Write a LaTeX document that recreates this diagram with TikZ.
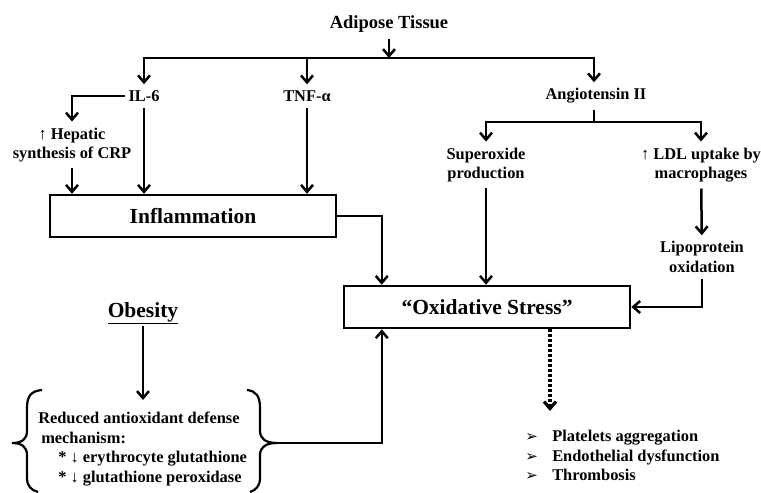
\documentclass[tikz,border=0pt]{standalone}
\usepackage{fontspec}
\setmainfont{Liberation Serif}
\newfontfamily\dejavu{DejaVu Sans}
\usetikzlibrary{arrows.meta}

\begin{document}
\begin{tikzpicture}[
    % pixel grid of the page
    x=1pt, y=-1pt,
    % type of arrow head
    >={Straight Barb[length=7pt,width=12pt]},
    % line thickness
    line width=2.5pt,
    txt/.style = {font=\fontsize{16.4}{19.5}\selectfont\bfseries, align=center, inner xsep=2pt, inner ysep=5pt},
    bigtxt/.style = {font=\fontsize{21.5}{24}\selectfont\bfseries, align=center},
    box/.style = {draw=black, line width=2.5pt, minimum width=286pt, minimum height=42pt, bigtxt},
    line/.style = {->, draw=black, line width=2.5pt},
    dots/.style = {->, draw=black, line width=3.2pt, dash pattern=on 3pt off 2pt}
    ]

    \useasboundingbox (0,0) rectangle (761,493);

    \coordinate (tmid) at (389,58);
    \coordinate (split) at (594,122);
    \coordinate (lbrace) at (12,443);
    \coordinate (rbrace) at (277,443);
    \coordinate (effin) at (550,411);

    % nodes
    \node (adipose) [txt, font=\fontsize{18.5}{20}\selectfont\bfseries] at (389,24) {Adipose Tissue};
    \node (il6)   [txt] at (144,96) {IL-6};
    \node (tnf)   [txt] at (307,96) {TNF-α};
    \node (angio) [txt] at (596,96) {Angiotensin II};
    \node (crp)   [txt] at (72,145) {↑ Hepatic\\synthesis of CRP};
    \node (super) [txt] at (486,165) {Superoxide\\production};
    \node (ldl)   [txt] at (701,165) {↑ LDL uptake by\\macrophages};
    \node (lipo)  [txt] at (702,257) {Lipoprotein\\oxidation};

    \node (infl) [box] at (193,216) {Inflammation};
    \node (oxi)  [box] at (487,307) {“Oxidative Stress”};

    \node (obesity) [bigtxt, inner sep=1pt] at (143,313) {\underline{Obesity}};
    \node (reduced) [txt, align=left, anchor=north west] at (35,406)
        {Reduced antioxidant defense\\
         \hspace*{3pt}mechanism:\\
         \hspace*{20pt}* ↓ erythrocyte glutathione\\
         \hspace*{20pt}* ↓ glutathione peroxidase};
    \node (effects) [txt, align=left, anchor=north west] at (522,424)
        {\makebox[27pt][l]{\dejavu\fontsize{15}{15}\selectfont ➢}Platelets aggregation\\
         \makebox[27pt][l]{\dejavu\fontsize{15}{15}\selectfont ➢}Endothelial dysfunction\\
         \makebox[27pt][l]{\dejavu\fontsize{15}{15}\selectfont ➢}Thrombosis};

    % braces
    \draw[line width=2.2pt] (42,390) .. controls (31,391) and (27,396) .. (27,408)
        -- (27,431) .. controls (27,439) and (22,443) .. (lbrace)
        .. controls (22,443) and (27,447) .. (27,455)
        -- (27,478) .. controls (27,486) and (31,490) .. (38,492);
    \draw[line width=2.2pt] (247,390) .. controls (256,391) and (260,396) .. (260,408)
        -- (260,431) .. controls (260,439) and (266,443) .. (rbrace)
        .. controls (266,443) and (260,447) .. (260,455)
        -- (260,478) .. controls (260,486) and (256,490) .. (250,492);

    % edges
    \path[line] (adipose) -- (tmid);
    \path[line] (tmid) -| (il6);
    \path[line] (tmid) -| (angio.north -| split);
    \path[line] (tnf |- tmid) -- (tnf);

    \path[line] (il6.west) -| (crp);
    \path[line] (crp.south) -- (crp.south |- infl.north);
    \path[line] (il6) -- (il6 |- infl.north);
    \path[line] (tnf) -- (tnf |- infl.north);

    \draw (angio.south -| split) -- (split);
    \path[line] (split) -| (super);
    \path[line] (split) -| (ldl);
    \path[line] (ldl) -- (lipo);

    \path[line] (infl.east) -| ([xshift=39pt]oxi.north west);
    \path[line] (super) -- (super |- oxi.north);
    \path[line] (lipo) |- (oxi.east);

    \path[line, shorten >=6pt] (obesity) -- (obesity |- reduced.north);
    \path[line] (rbrace) -| ([xshift=39pt]oxi.south west);

    \path[dots] (oxi.south -| effin) -- (effin);
\end{tikzpicture}
\end{document}
